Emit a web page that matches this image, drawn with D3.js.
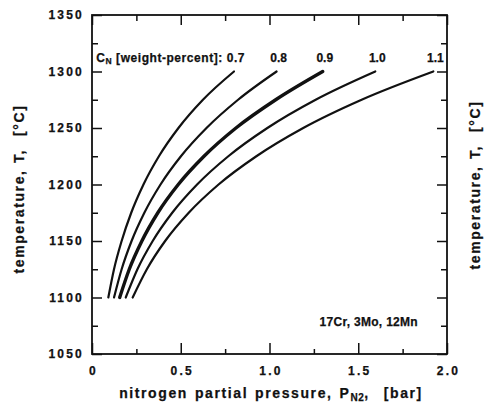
<!DOCTYPE html>
<html>
<head>
<meta charset="utf-8">
<script src="https://cdn.jsdelivr.net/npm/d3@7"></script>
<style>
  html, body { margin: 0; padding: 0; background: #fff; }
  svg { display: block; }
  text { font-family: "Liberation Sans", Arial, Helvetica, sans-serif; font-weight: bold; fill: #111; stroke: #111; stroke-width: 0.25px; }
  .pre { white-space: pre; }
</style>
</head>
<body>
<script>
// ---------- data ----------
const temperatures = [1100, 1125, 1150, 1175, 1200, 1225, 1250, 1275, 1300];
const seriesNames  = ["0.7", "0.8", "0.9", "1.0", "1.1"];
const p_07 = [0.092, 0.124, 0.167, 0.221, 0.290, 0.377, 0.487, 0.625, 0.800];
const p_08 = [0.124, 0.167, 0.223, 0.295, 0.386, 0.501, 0.645, 0.823, 1.040];
const p_09 = [0.156, 0.210, 0.281, 0.371, 0.486, 0.631, 0.811, 1.035, 1.300];
const p_10 = [0.190, 0.256, 0.342, 0.452, 0.592, 0.768, 0.988, 1.260, 1.596];
const p_11 = [0.229, 0.309, 0.412, 0.545, 0.713, 0.926, 1.190, 1.519, 1.923];
const xMajorTicks = [0, 0.5, 1.0, 1.5, 2.0];
const xMinorTicks = [0.25, 0.75, 1.25, 1.75];
const yMajorTicks = [1050, 1100, 1150, 1200, 1250, 1300, 1350];
const yMinorTicks = [1075, 1125, 1175, 1225, 1275, 1325];
const alloyNote = "17Cr, 3Mo, 12Mn";

const seriesValues = [p_07, p_08, p_09, p_10, p_11];

// ---------- layout ----------
const W = 489, H = 405;
const L = 92, R = 447, T = 15, B = 354;

const svg = d3.select("body").append("svg").attr("width", W).attr("height", H);

const x = d3.scaleLinear().domain([0, 2]).range([L, R]);
const y = d3.scaleLinear().domain([1050, 1350]).range([B, T]);

const fmtX = d => d === 0 ? "0" : d3.format(".1f")(d);

function styleAxis(g) {
  g.select(".domain").remove();
  g.selectAll(".tick line").attr("stroke", "#111").attr("stroke-width", 1.5);
  g.selectAll(".tick text")
    .style("font-size", "12px")
    .style("letter-spacing", "2.2px")
    .attr("fill", "#111");
}

// left axis
svg.append("g").attr("transform", `translate(${L},0)`)
  .call(d3.axisLeft(y).tickValues(yMajorTicks).tickSize(-10).tickPadding(8).tickFormat(d3.format("d")))
  .call(styleAxis);
svg.append("g").attr("transform", `translate(${L},0)`)
  .call(d3.axisLeft(y).tickValues(yMinorTicks).tickSize(-6).tickFormat(""))
  .call(styleAxis);
// right axis (ticks only)
svg.append("g").attr("transform", `translate(${R},0)`)
  .call(d3.axisRight(y).tickValues(yMajorTicks).tickSize(-10).tickFormat(""))
  .call(styleAxis);
svg.append("g").attr("transform", `translate(${R},0)`)
  .call(d3.axisRight(y).tickValues(yMinorTicks).tickSize(-6).tickFormat(""))
  .call(styleAxis);
// bottom axis
svg.append("g").attr("transform", `translate(0,${B})`)
  .call(d3.axisBottom(x).tickValues(xMajorTicks).tickSize(-11).tickPadding(12).tickFormat(fmtX))
  .call(styleAxis)
  .selectAll(".tick text").attr("dx", "1");
svg.append("g").attr("transform", `translate(0,${B})`)
  .call(d3.axisBottom(x).tickValues(xMinorTicks).tickSize(-5).tickFormat(""))
  .call(styleAxis);
// top axis (ticks only)
svg.append("g").attr("transform", `translate(0,${T})`)
  .call(d3.axisTop(x).tickValues(xMajorTicks).tickSize(-10).tickFormat(""))
  .call(styleAxis);
svg.append("g").attr("transform", `translate(0,${T})`)
  .call(d3.axisTop(x).tickValues(xMinorTicks).tickSize(-6).tickFormat(""))
  .call(styleAxis);

// frame
svg.append("rect")
  .attr("x", L).attr("y", T).attr("width", R - L).attr("height", B - T)
  .attr("fill", "none").attr("stroke", "#111").attr("stroke-width", 1.8);

// curves
const line = d3.line()
  .x(d => x(d[0]))
  .y(d => y(d[1]))
  .curve(d3.curveMonotoneX);

seriesValues.forEach((vals, i) => {
  const pts = vals.map((p, k) => [p, temperatures[k]]);
  svg.append("path")
    .datum(pts)
    .attr("d", line)
    .attr("fill", "none")
    .attr("stroke", "#111")
    .attr("stroke-width", seriesNames[i] === "0.9" ? 3.4 : 2.2)
    .attr("stroke-linecap", "round");
});

// curve labels
const labelY = 62;
seriesValues.forEach((vals, i) => {
  const endX = x(vals[vals.length - 1]) + 2;
  if (i === 0) {
    const t = svg.append("text")
      .attr("x", endX + 9).attr("y", labelY)
      .attr("text-anchor", "end")
      .style("font-size", "12px")
      .style("letter-spacing", "0.55px");
    t.append("tspan").text("C");
    t.append("tspan").attr("dy", 2).style("font-size", "8.5px").text("N");
    t.append("tspan").attr("dy", -2).text(" [weight-percent]: " + seriesNames[i]);
  } else {
    svg.append("text")
      .attr("x", endX).attr("y", labelY)
      .attr("text-anchor", "middle")
      .style("font-size", "12px")
      .text(seriesNames[i]);
  }
});

// alloy note
svg.append("text")
  .attr("x", 418).attr("y", 326)
  .attr("text-anchor", "end")
  .style("font-size", "12px")
  .style("letter-spacing", "0.3px")
  .text(alloyNote);

// x title
const xt = svg.append("text")
  .attr("class", "pre")
  .attr("x", 271).attr("y", 398)
  .attr("text-anchor", "middle")
  .style("font-size", "14px")
  .style("letter-spacing", "1.6px")
  .style("word-spacing", "1.5px");
xt.append("tspan").text("nitrogen partial pressure, P");
xt.append("tspan").attr("dy", 3).style("font-size", "10px").style("letter-spacing", "0.5px").text("N2");
xt.append("tspan").attr("dy", -3).text(",  [bar]");

// y titles (left and right)
function yTitle(cx, cy) {
  svg.append("text")
    .attr("class", "pre")
    .attr("transform", `translate(${cx},${cy}) rotate(-90)`)
    .attr("text-anchor", "middle")
    .style("font-size", "14px")
    .style("letter-spacing", "1.6px")
    .style("word-spacing", "1px")
    .text("temperature, T,  [°C]");
}
yTitle(24, 189);
yTitle(480, 185);
</script>
</body>
</html>
